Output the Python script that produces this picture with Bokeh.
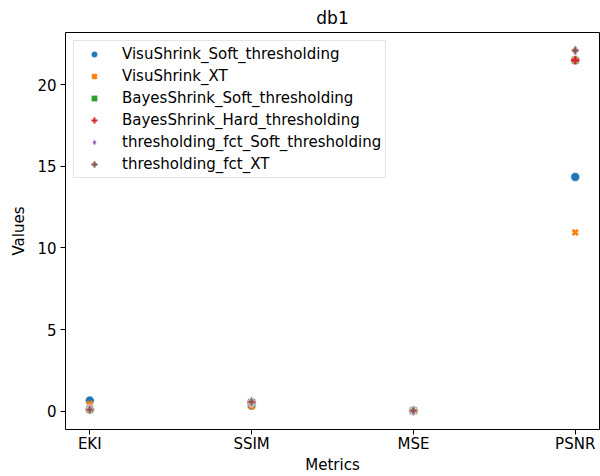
from bokeh.plotting import figure
from bokeh.models import FactorRange, Range1d, Legend, LegendItem, FixedTicker
from bokeh.embed import file_html
from bokeh.resources import INLINE

metrics = ["EKI", "SSIM", "MSE", "PSNR"]
series_names = [
    "VisuShrink_Soft_thresholding",
    "VisuShrink_XT",
    "BayesShrink_Soft_thresholding",
    "BayesShrink_Hard_thresholding",
    "thresholding_fct_Soft_thresholding",
    "thresholding_fct_XT",
]
visu_soft = [0.65, 0.35, 0.05, 14.35]
visu_xt = [0.45, 0.30, 0.08, 10.95]
bayes_soft = [0.10, 0.55, 0.03, 21.5]
bayes_hard = [0.10, 0.55, 0.03, 21.5]
fct_soft = [0.12, 0.57, 0.03, 22.1]
fct_xt = [0.08, 0.57, 0.03, 22.1]
series_values = [visu_soft, visu_xt, bayes_soft, bayes_hard, fct_soft, fct_xt]
y_ticks = [0, 5, 10, 15, 20]

colors = ["#1f77b4", "#ff7f0e", "#2ca02c", "#d62728", "#9467bd", "#8c564b"]
styles = [
    dict(marker="circle", size=9, line_color="white", line_width=0.6),
    dict(marker="x", size=7.5, line_width=2.8),
    dict(marker="square", size=7.5, line_color="white", line_width=0.6),
    dict(marker="plus", size=9, line_color="white", line_width=0.4),
    dict(marker="diamond", size=11, line_color="white", line_width=0.6),
    dict(marker="plus", size=7, line_color="white", line_width=0.3),
]

FONT = "DejaVu Sans"
FS = "15px"

p = figure(
    width=600, height=476,
    x_range=FactorRange(factors=metrics, range_padding=-0.175, range_padding_units="percent"),
    y_range=Range1d(-1.12, 23.2),
    output_backend="svg", toolbar_location=None,
    title="db1",
    min_border_left=65, min_border_right=1, min_border_top=31, min_border_bottom=46,
)
p.title.align = "center"
p.title.text_font = FONT
p.title.text_font_size = "17px"
p.title.text_font_style = "normal"
p.title.text_color = "black"
p.title.offset = 0

p.xgrid.visible = False
p.ygrid.visible = False
p.outline_line_color = "black"
p.outline_line_width = 1
p.background_fill_color = "white"
p.border_fill_color = "white"

for ax in (p.xaxis[0], p.yaxis[0]):
    ax.axis_line_color = None
    ax.major_tick_line_color = "black"
    ax.major_tick_out = 5
    ax.major_tick_in = 0
    ax.minor_tick_line_color = None
    ax.major_label_text_font = FONT
    ax.major_label_text_font_size = FS
    ax.major_label_text_color = "black"
    ax.axis_label_text_font = FONT
    ax.axis_label_text_font_size = FS
    ax.axis_label_text_font_style = "normal"
    ax.axis_label_text_color = "black"

p.yaxis[0].ticker = FixedTicker(ticks=y_ticks)
p.yaxis.axis_label = "Values"
p.xaxis.axis_label = "Metrics"
p.xaxis.major_label_standoff = 0
p.xaxis.axis_label_standoff = 0
p.yaxis.major_label_standoff = 4
p.yaxis.axis_label_standoff = 6

items = []
for name, vals, col, st in zip(series_names, series_values, colors, styles):
    kw = dict(st)
    if kw["marker"] == "x":
        kw["line_color"] = col
    r = p.scatter(x=metrics, y=vals, fill_color=col, **kw)
    items.append(LegendItem(label=name, renderers=[r]))

legend = Legend(
    items=items, location="top_left",
    label_text_font=FONT, label_text_font_size=FS, label_text_color="black",
    label_height=16, glyph_height=16, glyph_width=32, spacing=4,
    label_standoff=12, padding=4, margin=8,
    border_line_color="#cccccc", border_line_width=1,
    background_fill_alpha=0.8,
)
p.add_layout(legend)

open("out.html", "w").write(file_html(p, INLINE))
